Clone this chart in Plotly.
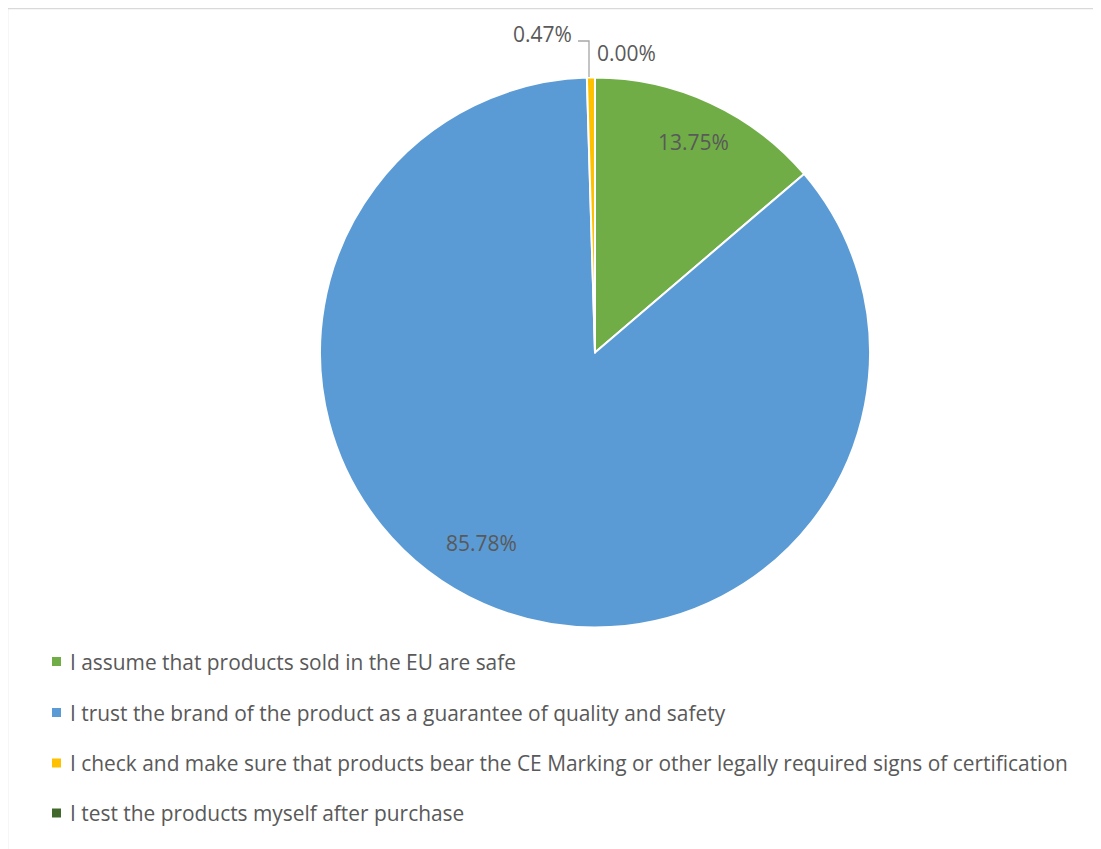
import plotly.graph_objects as go

W, H = 1101, 849
OFF = 8  # page body margin offset

categories = [
    "I assume that products sold in the EU are safe",
    "I trust the brand of the product as a guarantee of quality and safety",
    "I check and make sure that products bear the CE Marking or other legally required signs of certification",
    "I test the products myself after purchase",
]
values = [13.75, 85.78, 0.47, 0.00]
colors = ["#70AD47", "#5B9BD5", "#FFC000", "#43682B"]

# label pixel positions (styling only)
label_pos = [(693, 142), (482, 543), (542, 34), (626, 53)]

FONT = "Open Sans"
TXT = "#595959"

def px(x):
    return (x - OFF) / W

def py(y):
    return 1 - (y - OFF) / H

fig = go.Figure()
fig.add_trace(go.Pie(
    labels=categories,
    values=values,
    marker=dict(colors=colors, line=dict(color="white", width=2)),
    sort=False,
    direction="clockwise",
    rotation=0,
    textinfo="none",
    hoverinfo="label+percent",
    showlegend=False,
    domain=dict(x=[px(320), px(870)], y=[py(628), py(77)]),
))

annotations = []
for v, (x, y) in zip(values, label_pos):
    annotations.append(dict(
        x=px(x), y=py(y), xref="paper", yref="paper",
        text=f"{v:.2f}%", showarrow=False,
        xanchor="center", yanchor="middle",
        font=dict(family=FONT, size=21, color=TXT),
    ))

shapes = [
    # chart border
    dict(type="rect", xref="paper", yref="paper",
         x0=px(7.5), x1=1.05, y0=-0.05, y1=py(8.5),
         line=dict(color="#D9D9D9", width=1.5), fillcolor="rgba(0,0,0,0)", layer="below"),
    # leader line for small slice
    dict(type="path", xref="paper", yref="paper",
         path=f"M {px(578)} {py(41)} L {px(589)} {py(41)} L {px(589)} {py(77)}",
         line=dict(color="#A6A6A6", width=1.3)),
]

row_y = [661.5, 712.5, 763, 813]
for cat, col, y in zip(categories, colors, row_y):
    shapes.append(dict(type="rect", xref="paper", yref="paper",
                       x0=px(52), x1=px(61), y0=py(y + 4.5), y1=py(y - 4.5),
                       fillcolor=col, line=dict(width=0)))
    annotations.append(dict(
        x=px(68), y=py(y), xref="paper", yref="paper",
        text=cat, showarrow=False, xanchor="left", yanchor="middle",
        font=dict(family=FONT, size=20.9, color=TXT),
    ))

fig.update_layout(
    width=W, height=H,
    margin=dict(l=0, r=0, t=0, b=0),
    paper_bgcolor="white", plot_bgcolor="white",
    annotations=annotations, shapes=shapes,
)

fig.write_html("out.html")
